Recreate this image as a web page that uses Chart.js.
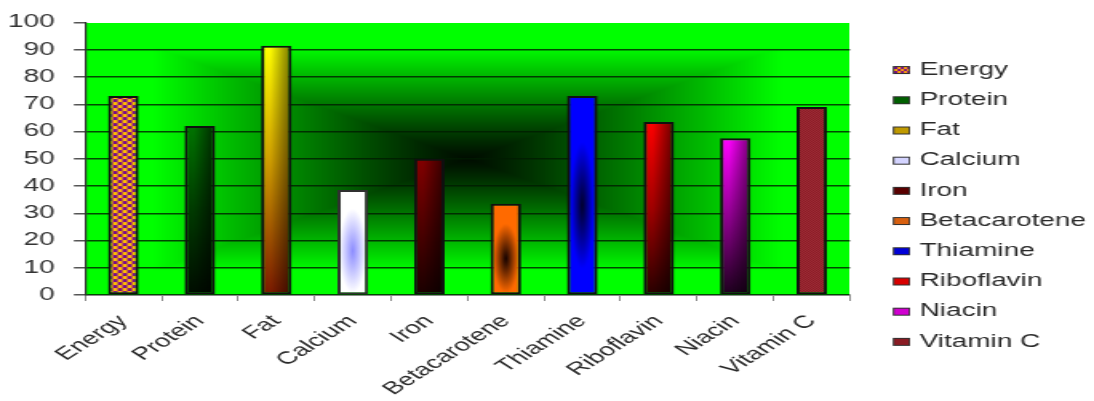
<!DOCTYPE html>
<html>
<head>
<meta charset="utf-8">
<script src="https://cdn.jsdelivr.net/npm/chart.js@4/dist/chart.umd.min.js"></script>
<style>
    html, body { margin: 0; padding: 0; background: #ffffff; }
    #nutrients { display: block; width: 1094px !important; height: 401px !important; }
</style>
</head>
<body>
<!-- drawn at 684px wide and stretched like the original picture -->
<canvas id="nutrients" width="684" height="401"></canvas>
<script>
"use strict";

//region Data
const categories = ["Energy", "Protein", "Fat", "Calcium", "Iron", "Betacarotene", "Thiamine", "Riboflavin", "Niacin", "Vitamin C"];
const values = [73, 62, 91.5, 38.5, 50, 33.5, 73, 63.5, 57.5, 69];
const yTickMin = 0;
const yTickMax = 100;
const yTickStep = 10;
const legendColors = ["#e08a20", "#006000", "#c09a00", "#d4d4ff", "#5a0000", "#d86010", "#0000d8", "#d80000", "#d000d0", "#8a1c24"];
//endregion

//region Fills
function checkerTile(a, b, cw, ch) {
    let t = document.createElement("canvas");
    t.width = cw * 2;
    t.height = ch * 2;
    let g = t.getContext("2d");
    g.fillStyle = a;
    g.fillRect(0, 0, t.width, t.height);
    g.fillStyle = b;
    g.fillRect(0, 0, cw, ch);
    g.fillRect(cw, ch, cw, ch);
    return t;
}

function vertical(g, w, h, stops) {
    let lg = g.createLinearGradient(0, 0, 0, h);
    for (let i = 0; i < stops.length; i++) {
        lg.addColorStop(stops[i][0], stops[i][1]);
    }
    g.fillStyle = lg;
    g.fillRect(0, 0, w, h);
}

function shadeRight(g, w, h, alpha) {
    let lg = g.createLinearGradient(0, 0, w, 0);
    lg.addColorStop(0, "rgba(0,0,0,0)");
    lg.addColorStop(0.3, "rgba(0,0,0,0)");
    lg.addColorStop(1, "rgba(0,0,0," + alpha + ")");
    g.fillStyle = lg;
    g.fillRect(0, 0, w, h);
}

function spot(g, w, h, cy, rx, ry, inner, outer) {
    g.save();
    g.translate(w / 2, cy);
    g.scale(rx, ry);
    let rg = g.createRadialGradient(0, 0, 0, 0, 0, 1);
    rg.addColorStop(0, inner);
    rg.addColorStop(1, outer);
    g.fillStyle = rg;
    g.fillRect(-w / 2 / rx, -cy / ry, w / rx, h / ry);
    g.restore();
}

function makeBarFill(i, w, h) {
    let c = document.createElement("canvas");
    c.width = Math.max(1, Math.ceil(w));
    c.height = Math.max(1, Math.ceil(h));
    let g = c.getContext("2d");
    switch (i) {
        case 0:
            g.fillStyle = g.createPattern(checkerTile("#ffbf00", "#7a0a8a", 3, 3), "repeat");
            g.fillRect(0, 0, w, h);
            break;
        case 1:
            vertical(g, w, h, [[0, "#007400"], [0.5, "#003a00"], [1, "#000c00"]]);
            shadeRight(g, w, h, 0.65);
            break;
        case 2:
            vertical(g, w, h, [[0, "#ffff00"], [0.45, "#d0a000"], [1, "#7a1800"]]);
            shadeRight(g, w, h, 0.55);
            break;
        case 3:
            spot(g, w, h, h * 0.58, w * 0.45, h * 0.4, "#8c8cff", "#ffffff");
            break;
        case 4:
            vertical(g, w, h, [[0, "#820000"], [1, "#1a0000"]]);
            shadeRight(g, w, h, 0.6);
            break;
        case 5:
            spot(g, w, h, h * 0.6, w * 0.42, h * 0.38, "#100000", "#ff6a00");
            break;
        case 6:
            spot(g, w, h, h * 0.55, w * 0.38, h * 0.32, "#000028", "#0000ff");
            break;
        case 7:
            vertical(g, w, h, [[0, "#ff0000"], [0.5, "#a00000"], [1, "#280000"]]);
            shadeRight(g, w, h, 0.6);
            break;
        case 8:
            vertical(g, w, h, [[0, "#ff00ff"], [0.5, "#900090"], [1, "#1c001c"]]);
            shadeRight(g, w, h, 0.55);
            break;
        default:
            g.fillStyle = g.createPattern(checkerTile("#8a1c26", "#9e2c36", 1, 1), "repeat");
            g.fillRect(0, 0, w, h);
    }
    return c;
}

// legend marker: small box on the right side of a wider transparent image
function legendMarker(i) {
    let c = document.createElement("canvas");
    c.width = 28;
    c.height = 10;
    let g = c.getContext("2d");
    if (i === 0) {
        g.fillStyle = g.createPattern(checkerTile("#ffaa00", "#7a0a8a", 2, 2), "repeat");
    } else {
        g.fillStyle = legendColors[i];
    }
    g.fillRect(17, 1, 11, 8);
    g.strokeStyle = "#303030";
    g.lineWidth = 1;
    g.strokeRect(17.5, 1.5, 10, 7);
    return c;
}
//endregion

//region Plugins
let greenBackground = {
    id: "greenBackground",
    beforeDraw: function (chart) {
        let a = chart.chartArea;
        let w = Math.round(a.right - a.left);
        let h = Math.round(a.bottom - a.top);
        let off = document.createElement("canvas");
        off.width = w;
        off.height = h;
        let g = off.getContext("2d");
        let img = g.createImageData(w, h);
        for (let y = 0; y < h; y++) {
            for (let x = 0; x < w; x++) {
                let dx = Math.abs(x + 0.5 - w / 2) / (w / 2);
                let dy = Math.abs(y + 0.5 - h / 2) / (h / 2);
                let s = Math.min(1, Math.max(dx, dy) / 0.82);
                let b = 0.05 + 0.95 * Math.pow(s, 1.15);
                let k = (y * w + x) * 4;
                img.data[k] = 0;
                img.data[k + 1] = Math.round(255 * b);
                img.data[k + 2] = 0;
                img.data[k + 3] = 255;
            }
        }
        g.putImageData(img, 0, 0);
        chart.ctx.drawImage(off, a.left, a.top);
    }
};
//endregion

//region Main
let ctx = document.getElementById("nutrients").getContext("2d");
let labelFont = { family: "'Liberation Sans', Arial, sans-serif", size: 17.5 };
let markers = categories.map(function (name, i) { return legendMarker(i); });

let chart = new Chart(ctx, {
    type: "bar",
    data: {
        labels: categories,
        datasets: [{
            data: values,
            backgroundColor: function (context) {
                let c = context.chart;
                let i = context.dataIndex;
                if (i === undefined || !c.chartArea || !c.scales.x) {
                    return legendColors[i] || "#888888";
                }
                let xs = c.scales.x;
                let ys = c.scales.y;
                let bw = xs.width / categories.length * 0.4;
                let left = xs.getPixelForValue(i) - bw / 2;
                let top = ys.getPixelForValue(values[i]);
                let bottom = ys.getPixelForValue(0);
                let pat = c.ctx.createPattern(makeBarFill(i, bw, bottom - top), "no-repeat");
                pat.setTransform(new DOMMatrix([1, 0, 0, 1, left, top]));
                return pat;
            },
            borderColor: function (context) {
                return context.dataIndex === 3 ? "#303030" : "#101010";
            },
            borderWidth: 2,
            borderSkipped: false,
            categoryPercentage: 1,
            barPercentage: 0.4
        }]
    },
    options: {
        responsive: false,
        animation: false,
        devicePixelRatio: 1,
        layout: { padding: { left: -7, right: -5, top: 18, bottom: 0 } },
        plugins: {
            tooltip: { enabled: false },
            legend: {
                position: "right",
                align: "start",
                title: { display: true, text: "", padding: 0, font: { size: 25.5 } },
                labels: {
                    usePointStyle: true,
                    pointStyleWidth: 22,
                    boxHeight: 8,
                    padding: 12.7,
                    color: "#2a2a2a",
                    font: labelFont,
                    generateLabels: function (c) {
                        return categories.map(function (name, i) {
                            return {
                                text: name,
                                pointStyle: markers[i],
                                fillStyle: legendColors[i],
                                strokeStyle: "#303030",
                                lineWidth: 0,
                                hidden: false,
                                index: i,
                                fontColor: "#2a2a2a"
                            };
                        });
                    }
                }
            }
        },
        scales: {
            x: {
                afterFit: function (scale) {
                    // plot bottom sits at y = 295 like the original
                    scale.height = 106;
                },
                grid: { drawOnChartArea: false, tickLength: 6, color: "#8a8a8a", offset: true },
                border: { color: "#8a8a8a", width: 1 },
                ticks: {
                    color: "#2a2a2a",
                    font: labelFont,
                    minRotation: 45,
                    maxRotation: 45,
                    autoSkip: false,
                    padding: 10
                }
            },
            y: {
                min: yTickMin,
                max: yTickMax,
                grid: {
                    color: function (context) {
                        return context.tick && context.tick.value === yTickMax ? "rgba(0,0,0,0)" : "rgba(0,28,0,0.8)";
                    },
                    lineWidth: 1.5,
                    tickLength: 7,
                    tickColor: "#555555"
                },
                border: { color: "#303030", width: 1.2 },
                ticks: {
                    stepSize: yTickStep,
                    color: "#333333",
                    font: labelFont,
                    padding: 12
                }
            }
        }
    },
    plugins: [greenBackground]
});
//endregion
</script>
</body>
</html>
